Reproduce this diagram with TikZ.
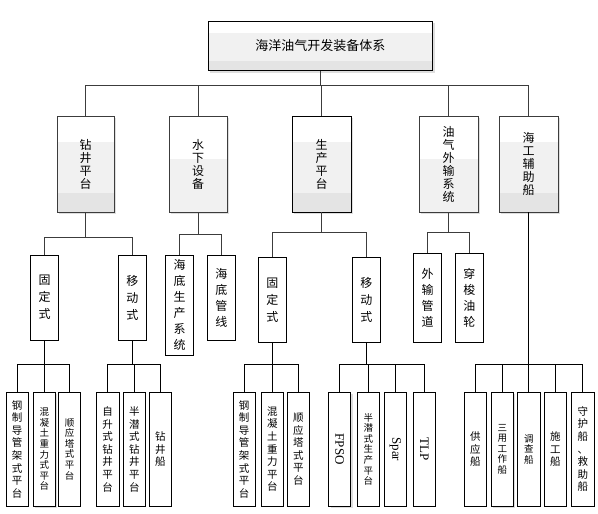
\documentclass[tikz,border=0pt]{standalone}
\usepackage{fontspec}
\setmainfont{Noto Sans CJK SC}
\newfontfamily\lserif{Liberation Serif}
\usetikzlibrary{calc,shadows}
\definecolor{lg}{HTML}{F1F1F1}
\definecolor{dg}{HTML}{E4E4E4}
\definecolor{cline}{HTML}{3C3C3C}
\tikzset{
  box/.style={draw=black,line width=0.9pt,fill=white,inner sep=0pt,align=center},
  bands/.style 2 args={fill=lg,path picture={
    \fill[white] (path picture bounding box.north west) rectangle ($(path picture bounding box.north east)!#1!(path picture bounding box.south east)$);
    \fill[dg] ($(path picture bounding box.north west)!#2!(path picture bounding box.south west)$) rectangle (path picture bounding box.south east);}},
  shad/.style={drop shadow={shadow xshift=2pt,shadow yshift=-2pt,fill=black!13,opacity=1}},
  conn/.style={draw=cline,line width=0.8pt},
  conb/.style={draw=black,line width=0.8pt},
  topfont/.style={font=\fontsize{13}{14}\selectfont},
  lvtwo/.style={font=\fontsize{12}{13}\selectfont,minimum height=96pt},
  lvthree/.style={font=\fontsize{12}{17}\selectfont,minimum width=28pt},
  lvthreeb/.style={font=\fontsize{12}{16}\selectfont,minimum width=28pt},
  lvfour/.style={font=\fontsize{10.5}{12.6}\selectfont,minimum width=22pt,minimum height=113.7pt},
  lvfoursm/.style={font=\fontsize{9.5}{10.6}\selectfont,minimum width=22pt,minimum height=113.7pt},
  latin/.style={font=\lserif\fontsize{13}{13}\selectfont,minimum width=22pt,minimum height=113.7pt},
}
\begin{document}
\begin{tikzpicture}[x=1pt,y=-1pt]
\path[use as bounding box] (0,0) rectangle (598,514);
% level 1
\node[box,shad,bands={0.24}{0.8},topfont,minimum width=224.7pt,minimum height=49.4pt] (T) at (320.3,46) {海洋油气开发装备体系};
% level 2
\node[box,shad,bands={0.27}{0.8},lvtwo,minimum width=57pt,draw=cline] (L1) at (85.5,164) {钻\\井\\平\\台};
\node[box,shad,bands={0.45}{1},lvtwo,minimum width=58pt,draw=cline] (L2) at (198,164) {水\\下\\设\\备};
\node[box,shad,bands={0.27}{0.8},lvtwo,minimum width=59pt] (L3) at (321.5,164) {生\\产\\平\\台};
\node[box,shad,bands={0.45}{1},lvtwo,minimum width=59pt,draw=cline] (L4) at (448.5,164) {油\\气\\外\\输\\系\\统};
\node[box,shad,bands={0.27}{0.8},lvtwo,minimum width=59pt,draw=cline] (L5) at (528.5,164) {海\\工\\辅\\助\\船};
% level 3
\node[box,lvthree,minimum height=85pt] (F1) at (44.5,297.5) {固\\定\\式};
\node[box,lvthree,minimum height=85pt] (M1) at (132.3,297.5) {移\\动\\式};
\node[box,lvthreeb,minimum height=100.7pt] (S1) at (179.5,305.3) {海\\底\\生\\产\\系\\统};
\node[box,lvthreeb,minimum height=85pt] (S2) at (221.3,297.5) {海\\底\\管\\线};
\node[box,lvthree,minimum height=85pt] (F2) at (272.3,299.8) {固\\定\\式};
\node[box,lvthree,minimum height=85pt] (M2) at (366.3,299.8) {移\\动\\式};
\node[box,lvthreeb,minimum height=89pt] (P1) at (427.5,297.8) {外\\输\\管\\道};
\node[box,lvthreeb,minimum height=89pt] (P2) at (469.3,297.8) {穿\\梭\\油\\轮};
% level 4
\node[box,lvfour] (A1) at (17.2,449.2) {钢\\制\\导\\管\\架\\式\\平\\台};
\node[box,shad,lvfoursm] (A2) at (44.3,449.2) {混\\凝\\土\\重\\力\\式\\平\\台};
\node[box,lvfoursm] (A3) at (69.5,449.2) {顺\\应\\塔\\式\\平\\台};
\node[box,lvfour,minimum width=22.7pt] (B1) at (107.7,449.2) {自\\升\\式\\钻\\井\\平\\台};
\node[box,lvfour] (B2) at (134.3,449.2) {半\\潜\\式\\钻\\井\\平\\台};
\node[box,lvfour] (B3) at (160.3,449.2) {钻\\井\\船};
\node[box,lvfour,minimum width=21.7pt] (C1) at (244.2,449.2) {钢\\制\\导\\管\\架\\式\\平\\台};
\node[box,lvfour] (C2) at (272.3,449.2) {混\\凝\\土\\重\\力\\平\\台};
\node[box,lvfour] (C3) at (298.3,449.2) {顺\\应\\塔\\式\\平\\台};
\node[box,shad,latin] (D1) at (339.7,449.2) {\rotatebox[origin=c]{-90}{FPSO}};
\node[box,lvfoursm] (D2) at (368.3,449.2) {半\\潜\\式\\生\\产\\平\\台};
\node[box,latin] (D3) at (395.3,449.2) {\rotatebox[origin=c]{-90}{Spar}};
\node[box,latin] (D4) at (424.3,449.2) {\rotatebox[origin=c]{-90}{TLP}};
\node[box,lvfour,minimum width=22.7pt] (E1) at (475.3,449.2) {供\\应\\船};
\node[box,shad,lvfoursm] (E2) at (502.3,449.2) {三\\用\\工\\作\\船};
\node[box,lvfoursm,minimum width=23pt] (E3) at (528.8,449.2) {调\\查\\船};
\node[box,lvfour] (E4) at (555.3,449.2) {施\\工\\船};
\node[box,lvfour,minimum width=23pt] (E5) at (582.8,449.2) {守\\护\\船\\、\\救\\助\\船};
% bus coordinates
\coordinate (y1) at (0,85);
\coordinate (y2a) at (0,237.3);
\coordinate (y2b) at (0,234.3);
\coordinate (y2c) at (0,232.3);
\coordinate (y3) at (0,364.3);
% connectors level 1 -> 2
\foreach \c in {L1,L2,L3,L4,L5} \draw[conn] (T.south) -- (T.south |- y1) -| (\c.north);
% level 2 -> 3
\foreach \c in {F1,M1} \draw[conn] (L1.south) -- (L1.south |- y2a) -| (\c.north);
\foreach \c in {S1,S2} \draw[conn] (L2.south) -- (L2.south |- y2b) -| (\c.north);
\foreach \c in {F2,M2} \draw[conn] (L3.south) -- (L3.south |- y2c) -| (\c.north);
\foreach \c in {P1,P2} \draw[conn] (L4.south) -- (L4.south |- y2c) -| (\c.north);
% level 3 -> 4
\foreach \c in {A1,A2,A3} \draw[conb] (F1.south) -- (F1.south |- y3) -| (\c.north);
\foreach \c in {B1,B2,B3} \draw[conb] (M1.south) -- (M1.south |- y3) -| (\c.north);
\foreach \c in {C1,C2,C3} \draw[conb] (F2.south) -- (F2.south |- y3) -| (\c.north);
\foreach \c in {D1,D2,D3,D4} \draw[conb] (M2.south) -- (M2.south |- y3) -| (\c.north);
\foreach \c in {E1,E2,E3,E4,E5} \draw[conb] (L5.south) -- (L5.south |- y3) -| (\c.north);
\end{tikzpicture}
\end{document}
